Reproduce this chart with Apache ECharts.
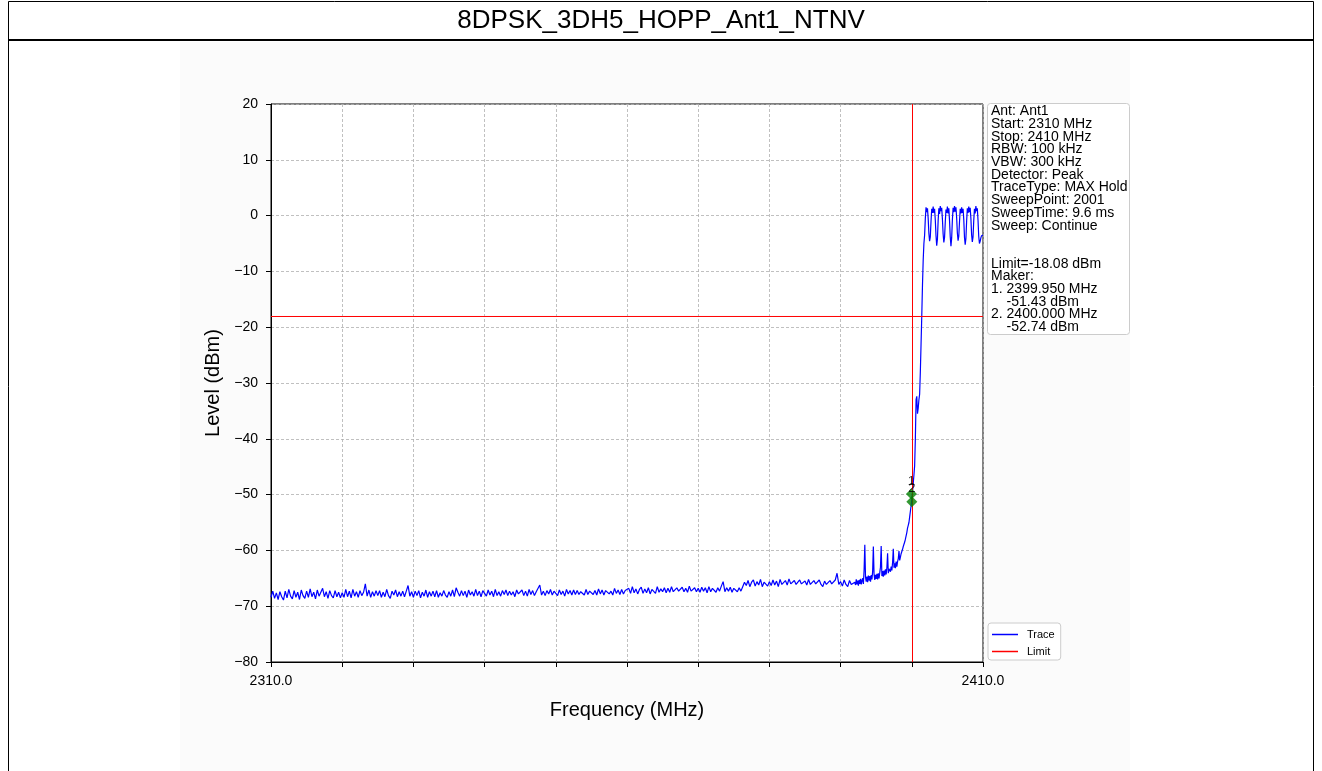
<!DOCTYPE html>
<html>
<head>
<meta charset="utf-8">
<script src="https://cdn.jsdelivr.net/npm/echarts@6/dist/echarts.min.js"></script>
<style>
html,body{margin:0;padding:0;background:#fff;}
#chart{width:1322px;height:771px;}
</style>
</head>
<body>
<div id="chart"></div>
<script>
// ---- data ----
const chartTitle = "8DPSK_3DH5_HOPP_Ant1_NTNV";
const xTickLabels = ["2310.0", "2410.0"];
const yTicks = [-80, -70, -60, -50, -40, -30, -20, -10, 0, 10, 20];
const limitLevel = -18.08;
const bandEdge = 2400;

// noise floor, 2310.00 .. 2391.75 MHz every 0.25 MHz
const noiseStart = 2310, noiseStep = 0.25;
const noiseLevels = [
-68.4,-67.3,-68.6,-67.6,-68.8,-67.4,-68.3,-68.9,-67.3,-68.5,-67.0,-68.2,-68.7,-67.2,-68.4,-67.5,-68.8,-67.1,-68.1,-68.6,
-67.3,-68.4,-66.9,-68.3,-67.5,-68.7,-67.1,-68.2,-68.5,-66.8,-68.3,-67.4,-68.6,-67.2,-68.1,-68.5,-67.2,-68.3,-67.5,-68.5,
-67.6,-68.4,-67.0,-68.3,-67.3,-68.5,-67.0,-68.2,-67.4,-68.4,-67.2,-68.1,-67.5,-66.0,-68.2,-67.1,-68.4,-67.4,-68.2,-67.2,
-68.1,-67.2,-68.4,-67.5,-68.3,-67.0,-68.1,-68.6,-67.3,-68.0,-67.1,-68.3,-67.4,-68.2,-67.3,-68.3,-67.3,-66.3,-68.2,-67.4,
-68.4,-67.3,-68.1,-67.2,-68.5,-67.5,-68.2,-67.1,-68.4,-67.4,-68.2,-67.3,-68.3,-67.2,-68.4,-67.6,-68.2,-67.2,-68.0,-68.4,
-67.4,-68.2,-67.1,-68.3,-66.7,-67.5,-68.2,-67.2,-68.1,-67.3,-68.4,-67.1,-68.0,-67.4,-68.2,-67.0,-68.1,-67.3,-68.3,-67.2,
-67.5,-68.2,-67.1,-68.0,-67.3,-68.3,-67.0,-68.1,-67.4,-68.2,-67.2,-67.9,-67.1,-68.1,-67.3,-68.0,-67.4,-68.3,-67.1,-67.8,
-68.0,-67.1,-68.1,-67.3,-68.2,-67.0,-67.9,-67.2,-68.1,-67.4,-67.1,-66.2,-68.0,-67.3,-68.1,-67.2,-67.8,-67.0,-68.0,-67.3,
-67.2,-68.1,-67.1,-67.9,-67.3,-68.2,-67.0,-67.8,-67.2,-68.0,-67.1,-67.9,-67.2,-67.9,-67.4,-67.1,-68.0,-67.0,-67.9,-67.3,
-67.1,-67.9,-67.2,-68.0,-66.9,-67.8,-67.1,-68.0,-67.2,-67.0,-67.8,-67.3,-68.0,-66.8,-67.7,-67.1,-67.9,-67.0,-67.8,-67.2,
-67.5,-66.8,-67.7,-66.5,-67.6,-66.9,-67.8,-67.0,-66.6,-67.7,-66.9,-67.6,-66.7,-67.8,-67.0,-66.8,-67.7,-66.5,-67.5,-66.9,
-67.4,-66.7,-67.6,-66.8,-67.5,-66.5,-67.4,-67.7,-66.7,-67.3,-67.6,-66.6,-67.4,-66.8,-67.5,-66.4,-67.3,-67.6,-66.7,-67.4,
-66.8,-67.5,-66.6,-67.3,-66.7,-67.6,-66.5,-67.4,-66.8,-66.6,-67.5,-66.7,-67.3,-66.4,-65.6,-67.4,-66.7,-67.3,-66.6,-67.5,
-66.8,-67.0,-67.4,-66.7,-67.3,-66.5,-65.7,-66.3,-65.4,-66.5,-65.7,-65.3,-66.4,-65.6,-66.2,-65.2,-66.5,-65.7,-65.5,-66.4,
-65.6,-66.3,-65.3,-66.2,-65.5,-66.5,-65.2,-66.1,-66.4,-65.4,-66.2,-65.1,-66.0,-66.3,-65.4,-66.1,-66.4,-65.3,-66.0,-66.2,
-65.5,-66.2,-65.2,-66.1,-66.4,-65.4,-66.0,-66.3,-65.3,-66.1,-66.5,-65.5,-66.1,-66.4,-65.4,-66.0,-66.2,-65.3,-64.1,-66.1,
-65.6,-66.4,-65.3,-66.1,-66.5,-65.4,-66.1,-66.3
];

// band edge and in-band, 2392.0 .. 2410.0 MHz every 0.1 MHz
const edgeStart = 2392, edgeStep = 0.1;
const edgeLevels = [
-65.7,-66.2,-65.2,-66.1,-65.4,-66.3,-65.3,-66.0,-65.1,-66.1,
-65.4,-65.0,-66.0,-63.5,-59.0,-64.8,-65.6,-64.7,-65.7,-64.5,
-65.4,-64.6,-65.6,-64.4,-65.2,-63.8,-59.3,-64.3,-65.3,-64.4,
-65.1,-64.2,-65.2,-64.1,-65.0,-64.0,-63.0,-59.2,-64.6,-63.7,
-64.7,-63.6,-64.5,-63.4,-64.3,-63.1,-60.5,-64.1,-63.3,-63.2,
-63.8,-62.9,-63.6,-62.2,-59.7,-63.1,-62.3,-63.2,-62.0,-62.9,
-62.0,-61.5,-60.1,-61.8,-61.2,-60.6,-60.9,-59.8,-59.3,-59.0,
-58.5,-58.0,-57.4,-56.8,-56.0,-55.5,-55.0,-54.0,-53.0,-52.0,
-51.0,-49.5,-48.0,-46.5,-44.8,-40.0,-33.0,-32.4,-35.5,-34.5,
-33.0,-32.0,-28.0,-23.0,-18.0,-12.5,-8.0,-5.0,-3.5,-0.5,
1.5,0.6,1.3,-0.5,-3.2,-4.6,-3.8,-1.0,1.2,0.5,
1.6,0.5,1.2,-0.8,-3.6,-5.4,-4.2,-0.9,1.3,0.3,
1.7,0.8,1.4,-0.6,-3.3,-4.8,-3.9,-1.2,1.1,0.5,
1.6,0.4,1.3,-0.9,-3.8,-5.5,-4.0,-0.8,1.4,0.6,
1.7,0.7,1.5,-0.4,-3.1,-4.5,-3.7,-1.1,1.2,0.4,
1.5,0.5,1.2,-0.7,-3.9,-5.2,-4.1,-1.0,1.3,0.5,
1.6,0.6,1.4,-0.5,-3.4,-4.7,-3.8,-0.9,1.2,0.4,
1.7,0.8,1.3,-0.8,-3.7,-5.0,-4.6,-4.0,-3.6,-3.4,
-3.5
];

// markers
const markerFreqs = [2399.95, 2400.0];
const markerLevels = [-49.9, -51.3];
const markerNames = ["1", "2"];

// info panel text
const infoLines = [
"Ant: Ant1","Start: 2310 MHz","Stop: 2410 MHz","RBW: 100 kHz","VBW: 300 kHz",
"Detector: Peak","TraceType: MAX Hold","SweepPoint: 2001","SweepTime: 9.6 ms","Sweep: Continue",
"","","Limit=-18.08 dBm","Maker:","1. 2399.950 MHz","    -51.43 dBm","2. 2400.000 MHz","    -52.74 dBm"
];

// ---- build ----
const trace = [];
noiseLevels.forEach((v, i) => trace.push([+(noiseStart + i * noiseStep).toFixed(2), v]));
edgeLevels.forEach((v, i) => trace.push([+(edgeStart + i * edgeStep).toFixed(2), v]));
const limitData = [[2310, limitLevel], [2410, limitLevel]];
const markerData = markerFreqs.map((f, i) => ({ value: [f, markerLevels[i]], name: markerNames[i] }));

const FONT = "'Liberation Sans', Arial, sans-serif";
const fmtY = v => v < 0 ? "\u2212" + Math.abs(v) : String(v);

const chart = echarts.init(document.getElementById('chart'), null, { renderer: 'canvas' });
chart.setOption({
  animation: false,
  backgroundColor: '#ffffff',
  textStyle: { fontFamily: FONT },
  graphic: [
    { type: 'rect', z: -10, shape: { x: 180, y: 42, width: 950, height: 729 }, style: { fill: '#fbfbfb' } },
    { type: 'rect', z: 10, shape: { x: 8.5, y: 1.5, width: 1305, height: 800 }, style: { fill: 'none', stroke: '#000', lineWidth: 1 } },
    { type: 'line', z: 10, shape: { x1: 8, y1: 40, x2: 1314, y2: 40 }, style: { stroke: '#000', lineWidth: 2 } },
    { type: 'text', z: 10, x: 661, y: 21, style: { text: chartTitle, font: "26px " + FONT, fill: '#000', textAlign: 'center', textVerticalAlign: 'middle' } },
    { type: 'rect', z: 10, shape: { x: 987.5, y: 103.5, width: 142, height: 231, r: 3 }, style: { fill: '#fff', stroke: '#cccccc', lineWidth: 1 } },
    { type: 'text', z: 11, x: 991, y: 105, style: { text: infoLines.join('\n'), font: "14px " + FONT, lineHeight: 12.7, fill: '#000', textAlign: 'left', textVerticalAlign: 'top' } }
  ],
  grid: { left: 271, right: 339, top: 104, bottom: 109, show: true, borderColor: '#000', borderWidth: 1, backgroundColor: '#fff' },
  legend: {
    data: ['Trace', 'Limit'], orient: 'vertical', left: 988, top: 623,
    icon: 'rect', itemWidth: 26, itemHeight: 1.5, itemGap: 6,
    padding: [6, 6, 3, 4], borderColor: '#cccccc', borderWidth: 1, borderRadius: 3, backgroundColor: '#fff',
    textStyle: { fontSize: 11, color: '#000', fontFamily: FONT, padding: [0, 0, 0, 4] }
  },
  xAxis: {
    type: 'value', min: 2310, max: 2410, interval: 10,
    name: 'Frequency (MHz)', nameLocation: 'middle', nameGap: 38,
    nameTextStyle: { fontSize: 20, color: '#000', fontFamily: FONT },
    axisLine: { show: true, onZero: false, lineStyle: { color: '#000', width: 1 } },
    axisTick: { show: true, length: 5, lineStyle: { color: '#000', width: 1 } },
    axisLabel: { color: '#000', fontSize: 14, margin: 12, fontFamily: FONT, showMinLabel: true, showMaxLabel: true,
      formatter: v => v === 2310 ? xTickLabels[0] : (v === 2410 ? xTickLabels[1] : '') },
    splitLine: { show: true, lineStyle: { color: '#b0b0b0', width: 0.8, type: [3, 2] } }
  },
  yAxis: {
    type: 'value', min: yTicks[0], max: yTicks[yTicks.length - 1], interval: 10,
    name: 'Level (dBm)', nameLocation: 'middle', nameGap: 46, nameRotate: 90,
    nameTextStyle: { fontSize: 20, color: '#000', fontFamily: FONT },
    axisLine: { show: true, onZero: false, lineStyle: { color: '#000', width: 1 } },
    axisTick: { show: true, length: 5, lineStyle: { color: '#000', width: 1 } },
    axisLabel: { color: '#000', fontSize: 14, margin: 13, fontFamily: FONT, formatter: fmtY },
    splitLine: { show: true, lineStyle: { color: '#b0b0b0', width: 0.8, type: [3, 2] } }
  },
  series: [
    { name: 'Trace', type: 'line', data: trace, showSymbol: false, symbol: 'none', z: 3,
      lineStyle: { color: '#0000ff', width: 1.2 }, itemStyle: { color: '#0000ff' } },
    { name: 'Limit', type: 'line', data: limitData, showSymbol: false, symbol: 'none', z: 4,
      lineStyle: { color: '#ff0000', width: 1 }, itemStyle: { color: '#ff0000' },
      markLine: { silent: true, symbol: ['none', 'none'], label: { show: false },
        lineStyle: { color: '#ff0000', width: 1, type: 'solid' }, data: [{ xAxis: bandEdge }] } },
    { name: 'Markers', type: 'scatter', data: markerData, symbol: 'diamond', symbolSize: 11, z: 5,
      itemStyle: { color: '#008000' },
      label: { show: true, position: 'top', distance: 1, formatter: p => p.name, color: '#000', fontSize: 13, fontFamily: FONT } }
  ]
});
</script>
</body>
</html>
